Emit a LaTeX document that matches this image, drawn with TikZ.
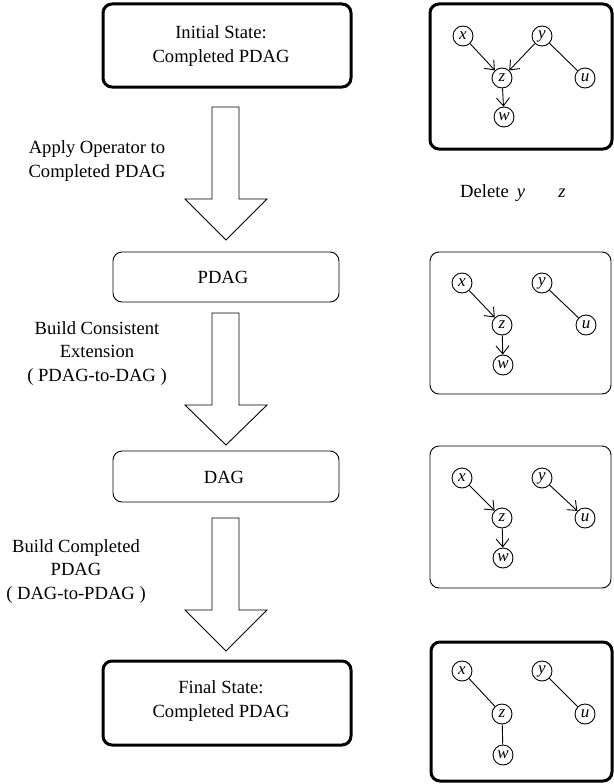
\documentclass[tikz,border=0pt]{standalone}
\usepackage{fontspec}
\setmainfont{Liberation Serif}
\usetikzlibrary{arrows.meta}
\begin{document}
\begin{tikzpicture}[x=1pt,y=-1pt,
  txt/.style={font=\fontsize{18.6}{24}\selectfont, align=center, inner sep=0pt},
  lbl/.style={font=\fontsize{18.6}{23.5}\selectfont, align=center, inner sep=0pt},
  thickbox/.style={draw, line width=3pt, rounded corners=9pt, inner sep=0pt},
  thinbox/.style={draw, line width=0.9pt, rounded corners=9pt, inner sep=0pt},
  bigarrow/.style={draw, line width=0.9pt, fill=white},
  gnode/.style={draw, circle, line width=0.9pt, minimum size=20pt, inner sep=0pt, font=\fontsize{17}{20}\selectfont\itshape},
  darc/.style={line width=0.9pt, -{Straight Barb[length=8pt,width=13pt]}},
  uarc/.style={line width=0.9pt},
]
\useasboundingbox (0,0) rectangle (613,784);

% left column boxes
\node[thickbox, minimum width=248pt, minimum height=83pt] (s0) at (227,45.5) {};
\node[txt] (s0t) at (221,46) {Initial State:\\Completed PDAG};
\node[thinbox, minimum width=226pt, minimum height=50pt] (s1) at (226,277) {};
\node[txt] (s1t) at (223,277) {PDAG};
\node[thinbox, minimum width=226pt, minimum height=51pt] (s2) at (226,476.5) {};
\node[txt] (s2t) at (224,477) {DAG};
\node[thickbox, minimum width=248pt, minimum height=84pt] (s3) at (227,703) {};
\node[txt] (s3t) at (221,701.5) {Final State:\\Completed PDAG};

% block arrows
\draw[bigarrow] (212,107) -- (239,107) -- (239,199) -- (267,199) -- (226,240) -- (185,199) -- (212,199) -- cycle;
\draw[bigarrow] (212,313) -- (239,313) -- (239,405) -- (267,405) -- (226,445) -- (185,405) -- (212,405) -- cycle;
\draw[bigarrow] (212,518) -- (239,518) -- (239,610) -- (267,610) -- (226,651) -- (185,610) -- (212,610) -- cycle;

% labels
\node[lbl] (l1) at (97,161) {Apply Operator to\\Completed PDAG};
\node[lbl] (l2) at (97,353.5) {Build Consistent\\Extension\\( PDAG-to-DAG )};
\node[lbl] (l3) at (76,571.5) {Build Completed\\PDAG\\( DAG-to-PDAG )};

% right boxes
\node[thickbox, minimum width=182pt, minimum height=145pt] (g0) at (521,76.5) {};
\node[thinbox, minimum width=181pt, minimum height=142pt] (g1) at (520.5,323) {};
\node[thinbox, minimum width=181pt, minimum height=142pt] (g2) at (520.5,517) {};
\node[thickbox, minimum width=181pt, minimum height=139pt] (g3) at (521.5,711.5) {};

% Delete text
\node[txt, anchor=base] (del) at (484.5,197.5) {Delete};
\node[txt, anchor=base, font=\fontsize{18.6}{24}\selectfont\itshape] (dy) at (521,197.5) {y};
\node[txt, anchor=base, font=\fontsize{18.6}{24}\selectfont\itshape] (dz) at (562,197.5) {z};

% graph 0
\node[gnode] (ax) at (463,36) {x};
\node[gnode] (ay) at (542,36) {y};
\node[gnode] (az) at (502,78) {z};
\node[gnode] (au) at (585,78) {u};
\node[gnode] (aw) at (504,117) {w};
\draw[darc] (ax) -- (az);
\draw[darc] (ay) -- (az);
\draw[darc] (az) -- (aw);
\draw[uarc] (ay) -- (au);

% graph 1
\node[gnode] (bx) at (462,283) {x};
\node[gnode] (by) at (542,283) {y};
\node[gnode] (bz) at (502,325) {z};
\node[gnode] (bu) at (586,325) {u};
\node[gnode] (bw) at (503,365) {w};
\draw[darc] (bx) -- (bz);
\draw[darc] (bz) -- (bw);
\draw[uarc] (by) -- (bu);

% graph 2
\node[gnode] (cx) at (462,478) {x};
\node[gnode] (cy) at (542,478) {y};
\node[gnode] (cz) at (502,518) {z};
\node[gnode] (cu) at (585,518) {u};
\node[gnode] (cw) at (503,558) {w};
\draw[darc] (cx) -- (cz);
\draw[darc] (cz) -- (cw);
\draw[darc] (cy) -- (cu);

% graph 3
\node[gnode] (dx) at (462,671) {x};
\node[gnode] (dy2) at (542,671) {y};
\node[gnode] (dz2) at (502,714) {z};
\node[gnode] (du) at (585,714) {u};
\node[gnode] (dw) at (503,755) {w};
\draw[uarc] (dx) -- (dz2);
\draw[uarc] (dz2) -- (dw);
\draw[uarc] (dy2) -- (du);
\end{tikzpicture}
\end{document}
